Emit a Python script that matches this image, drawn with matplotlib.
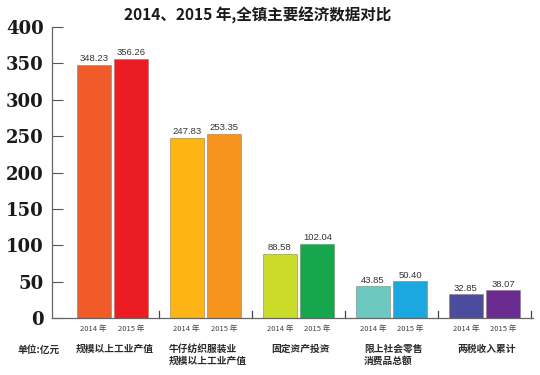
import numpy as np
import matplotlib
matplotlib.use('Agg')
import matplotlib.pyplot as plt

plt.rcParams['font.family'] = ['Noto Sans CJK SC', 'DejaVu Sans']
plt.rcParams['axes.unicode_minus'] = False

# 数据
categories = ['规模以上工业产值', '牛仔纺织服装业\n规模以上工业产值', '固定资产投资',
              '限上社会零售\n消费品总额', '两税收入累计']
years = ['2014 年', '2015 年']
values_2014 = [348.23, 247.83, 88.58, 43.85, 32.85]
values_2015 = [356.26, 253.35, 102.04, 50.40, 38.07]
colors_2014 = ['#F15A29', '#FDB515', '#CBDB2A', '#6DC8BF', '#4B4C9E']
colors_2015 = ['#EC1C24', '#F7941E', '#16A64B', '#1BA7DF', '#6B2C91']
yticks = [0, 50, 100, 150, 200, 250, 300, 350, 400]

fig = plt.figure(figsize=(5.4, 3.75), dpi=100)
ax = fig.add_axes([52 / 540, 1 - 318 / 375, (533 - 52) / 540, (318 - 27) / 375])

x = np.arange(len(categories))
w = 0.365
off = 0.202
ax.bar(x - off, values_2014, w, color=colors_2014, edgecolor='#8a7f70', linewidth=0.4)
ax.bar(x + off, values_2015, w, color=colors_2015, edgecolor='#8a7f70', linewidth=0.4)

for xi, v in zip(x - off, values_2014):
    ax.text(xi, v + 2, f'{v:.2f}', ha='center', va='bottom', fontsize=6.8,
            color='#333333', family='Liberation Sans')
for xi, v in zip(x + off, values_2015):
    ax.text(xi, v + 2, f'{v:.2f}', ha='center', va='bottom', fontsize=6.8,
            color='#333333', family='Liberation Sans')

ax.set_xlim(-0.65, 4.52)
ax.set_ylim(0, 400)
ax.set_yticks(yticks)
ax.set_yticklabels([str(t) for t in yticks], family='DejaVu Serif',
                   fontweight='bold', fontsize=13, color='#1a1a1a')
ax.tick_params(axis='y', direction='in', length=8, width=0.8, color='#555555', pad=6)
ax.set_xticks([])

# 分隔小刻度
for s in np.arange(0.5, 5.0, 1.0):
    ax.plot([s, s], [0, 9], color='#444444', lw=0.9, clip_on=False)

for side in ['top', 'right']:
    ax.spines[side].set_visible(False)
for side in ['left', 'bottom']:
    ax.spines[side].set_color('#666666')
    ax.spines[side].set_linewidth(0.9)

# 年份与类别标签
for i in range(len(categories)):
    ax.text(x[i] - off, -15, years[0], ha='center', va='center', fontsize=5.5,
            color='#444444')
    ax.text(x[i] + off, -15, years[1], ha='center', va='center', fontsize=5.5,
            color='#444444')
    ax.text(x[i] + 0.02, -36, categories[i], ha='center', va='top',
            multialignment='left', fontsize=7, fontweight='bold',
            color='#2a2a2a', linespacing=1.15)

fig.text(17 / 540, 1 - 350 / 375, '单位:亿元', ha='left', va='center', fontsize=7,
         fontweight='bold', color='#2a2a2a')
fig.text(258 / 540, 1 - 15 / 375, '2014、2015 年,全镇主要经济数据对比', ha='center',
         va='center', fontsize=11.2, fontweight='bold', color='#1a1a1a')

fig.savefig('out.png', dpi=100)
